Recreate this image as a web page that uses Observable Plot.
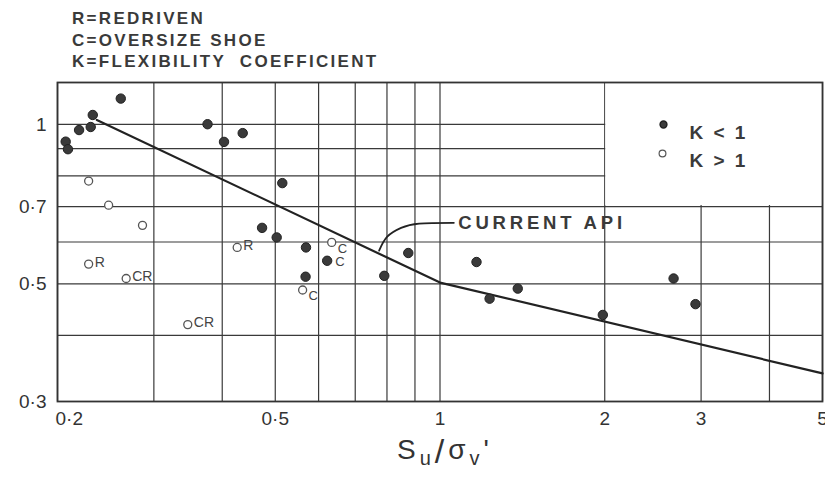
<!DOCTYPE html>
<html>
<head>
<meta charset="utf-8">
<script src="https://cdn.jsdelivr.net/npm/d3@7"></script>
<script src="https://cdn.jsdelivr.net/npm/@observablehq/plot@0.6"></script>
<style>
  body { margin: 0; background: #fff; }
  #wrap { position: relative; width: 825px; height: 477px; overflow: hidden;
          font-family: "Liberation Sans", Arial, Helvetica, sans-serif; color: #333; }
  #chart { position: absolute; left: 0; top: 0; }
  #hdr { position: absolute; left: 72px; top: 8px; font-weight: bold; font-size: 17px;
         line-height: 21.7px; letter-spacing: 2.3px; white-space: pre; color: #3a3a3a; }
  #xl { position: absolute; left: 397px; top: 434px; font-size: 28px; line-height: 1;
        color: #333; white-space: nowrap; letter-spacing: 4px; }
  #xl sub { font-size: 20px; vertical-align: -6px; line-height: 0; }
  #xl .sl { font-size: 34px; vertical-align: -4px; }
</style>
</head>
<body>
<div id="wrap">
  <div id="chart"></div>
  <div id="hdr"></div>
  <div id="xl">S<sub>u</sub><span class="sl">/</span>σ<sub>v</sub>'</div>
</div>
<script>
// ---- header / legend text ----
const headerLines = ["R=REDRIVEN", "C=OVERSIZE SHOE", "K=FLEXIBILITY  COEFFICIENT"];
const legendLabels = ["K < 1", "K > 1"];
const apiLabel = "CURRENT API";

// ---- grid & ticks ----
const xGrid = [0.2, 0.3, 0.4, 0.5, 0.6, 0.7, 0.8, 0.9, 1, 2, 3, 4, 5];
const yGrid = [0.3, 0.4, 0.5, 0.6, 0.7, 0.8, 0.9, 1, 1.2];
const xTicks = [0.5, 1, 2, 3, 5];
const xTickFirst = [0.2];
const yTicks = [0.3, 0.5, 0.7, 1];

// ---- K < 1 (filled) ----
const kLowX = [0.207, 0.209, 0.219, 0.230, 0.232, 0.261, 0.376, 0.403, 0.436, 0.473, 0.503, 0.515,
               0.569, 0.568, 0.622, 0.791, 0.875, 1.166, 1.232, 1.387, 1.984, 2.672, 2.930];
const kLowY = [0.928, 0.898, 0.976, 0.989, 1.042, 1.119, 1.001, 0.927, 0.963, 0.638, 0.612, 0.775,
               0.586, 0.516, 0.553, 0.518, 0.572, 0.550, 0.469, 0.490, 0.437, 0.512, 0.458];
const kLowLabel = ["", "", "", "", "", "", "", "", "", "", "", "",
                   "", "", "C", "", "", "", "", "", "", "", ""];

// ---- K > 1 (open) ----
const kHighX = [0.228, 0.248, 0.286, 0.228, 0.267, 0.346, 0.426, 0.634, 0.561];
const kHighY = [0.782, 0.704, 0.645, 0.545, 0.512, 0.419, 0.586, 0.599, 0.487];
const kHighLabel = ["", "", "", "R", "CR", "CR", "R", "C", "C"];

// ---- current API line & leader ----
const apiX = [0.236, 1, 5];
const apiY = [1.02, 0.503, 0.339];
const leaderX = [0.774, 0.801, 0.849, 0.916, 1.06];
const leaderY = [0.578, 0.614, 0.638, 0.650, 0.652];
const apiLabelX = [1.08];
const apiLabelY = [0.652];

// ---- legend panel (blank area of the grid) ----
const legendPanelX = [2, 5];
const legendPanelY = [0.7, 1.2];

document.getElementById("hdr").textContent = headerLines.join("\n");

const low = kLowX.map((x, i) => ({x, y: kLowY[i], label: kLowLabel[i]}));
const high = kHighX.map((x, i) => ({x, y: kHighY[i], label: kHighLabel[i]}));
const api = apiX.map((x, i) => ({x, y: apiY[i]}));
const leader = leaderX.map((x, i) => ({x, y: leaderY[i]}));
const apiText = apiLabelX.map((x, i) => ({x, y: apiLabelY[i], text: apiLabel}));
const panel = [{x1: legendPanelX[0], x2: legendPanelX[1], y1: legendPanelY[0], y2: legendPanelY[1]}];

const fmt = d => d === 1 ? "1" : String(d).replace(".", "·");
const ink = "#333";

const chart = Plot.plot({
  width: 825,
  height: 477,
  marginTop: 82,
  marginBottom: 76,
  marginLeft: 57,
  marginRight: 3,
  style: {fontFamily: "'Liberation Sans', Arial, Helvetica, sans-serif", color: ink, background: "white"},
  x: {type: "log", domain: [0.2, 5]},
  y: {type: "log", domain: [0.3, 1.2]},
  marks: [
    Plot.ruleX(xGrid, {stroke: "#3a3a3a", strokeWidth: 1.2}),
    Plot.ruleY(yGrid, {stroke: "#3a3a3a", strokeWidth: 1.2}),
    Plot.rect(panel, {x1: "x1", x2: "x2", y1: "y1", y2: "y2", fill: "white", insetLeft: 1, insetBottom: 1}),
    Plot.frame({stroke: "#333", strokeWidth: 1.8}),
    Plot.line(api, {x: "x", y: "y", stroke: "#222", strokeWidth: 2.2}),
    Plot.line(leader, {x: "x", y: "y", stroke: "#222", strokeWidth: 1.8, curve: "natural"}),
    Plot.text(apiText, {x: "x", y: "y", text: "text", textAnchor: "start",
      fontSize: 18.5, fontWeight: "bold", fill: "#3a3a3a"}),
    Plot.dot(low, {x: "x", y: "y", r: 4.7, fill: "#3a3a3a", stroke: "#222", strokeWidth: 1}),
    Plot.dot(high, {x: "x", y: "y", r: 4, fill: "white", stroke: "#555", strokeWidth: 1.3}),
    Plot.text(high.filter(d => d.label === "R" || d.label === "CR"), {x: "x", y: "y", text: "label",
      textAnchor: "start", dx: 6, dy: -2, fontSize: 14, fill: "#444"}),
    Plot.text(high.filter(d => d.label === "C"), {x: "x", y: "y", text: "label",
      textAnchor: "start", dx: 6, dy: 6, fontSize: 13, fill: "#444"}),
    Plot.text(low.filter(d => d.label), {x: "x", y: "y", text: "label",
      textAnchor: "start", dx: 8, dy: 1, fontSize: 13, fill: "#444"}),
    // legend
    Plot.dot([legendLabels[0]], {frameAnchor: "top-right", dx: -159, dy: 42, r: 3.4, fill: "#3c3c3c", stroke: "#222"}),
    Plot.dot([legendLabels[1]], {frameAnchor: "top-right", dx: -160, dy: 71, r: 3.4, fill: "white", stroke: "#555", strokeWidth: 1.2}),
    Plot.text([legendLabels[0]], {frameAnchor: "top-right", text: d => d, textAnchor: "start", dx: -133, dy: 43,
      fontSize: 19, fontWeight: "bold", fill: "#3a3a3a"}),
    Plot.text([legendLabels[1]], {frameAnchor: "top-right", text: d => d, textAnchor: "start", dx: -133, dy: 71,
      fontSize: 19, fontWeight: "bold", fill: "#3a3a3a"}),
    // axes
    Plot.axisY(yTicks, {tickSize: 0, tickPadding: 11, tickFormat: fmt, fontSize: 19, label: null, fill: ink}),
    Plot.axisX(xTicks, {tickSize: 0, tickPadding: 10, tickFormat: fmt, fontSize: 19, label: null, fill: ink}),
    Plot.axisX(xTickFirst, {tickSize: 0, tickPadding: 10, tickFormat: fmt, fontSize: 19, label: null, fill: ink,
      textAnchor: "start", dx: -2})
  ]
});
// letter spacing for the wide lettering of the annotation and legend
d3.select(chart).selectAll("text").each(function () {
  const t = this.textContent;
  if (t === apiLabel) this.setAttribute("letter-spacing", "3.8");
  if (legendLabels.includes(t)) this.setAttribute("letter-spacing", "2.5");
});
document.getElementById("chart").appendChild(chart);
</script>
</body>
</html>
